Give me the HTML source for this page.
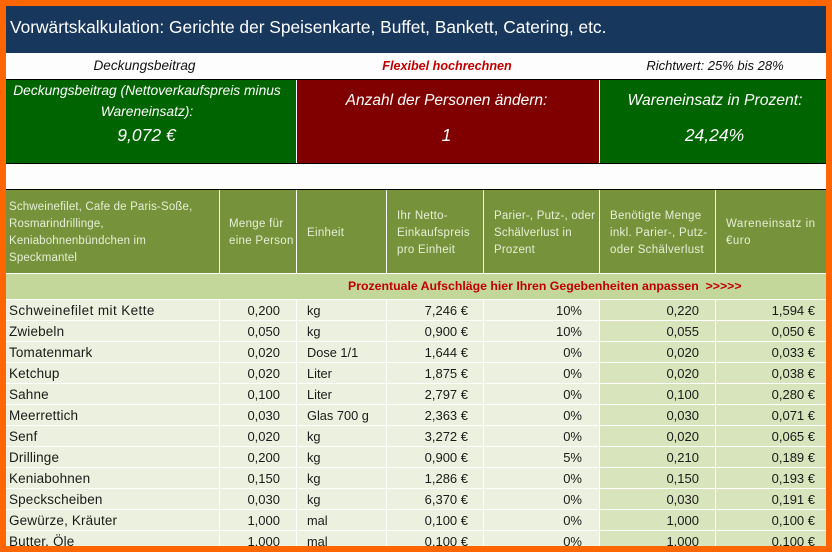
<!DOCTYPE html>
<html lang="de">
<head>
<meta charset="utf-8">
<title>Vorwärtskalkulation</title>
<style>
html,body{margin:0;padding:0;background:#ff6600}
body{width:832px;height:552px;overflow:hidden;position:relative;font-family:"Liberation Sans",sans-serif}
#sheet{position:absolute;left:6px;top:6px;width:820px;height:540px;background:#fdfdfd;overflow:hidden}
.abs{position:absolute;box-sizing:border-box;white-space:nowrap}
.title{left:0;top:0;width:820px;height:47px;background:#17375d;color:#fff;font-size:17.35px;line-height:43px;padding-left:4px}
.sub{top:47px;height:26px;line-height:26px;font-size:13px;font-style:italic;color:#111;text-align:center}
.hr{left:0;width:820px;height:1px;background:#000}
.box{top:74px;height:83px;color:#fff;font-style:italic;text-align:center}
.box div{position:absolute;text-align:center;white-space:nowrap}
table{position:absolute;left:0;top:184px;width:820px;border-collapse:separate;border-spacing:0;table-layout:fixed}
th{background:#76933c;color:#e6eed6;font-weight:normal;font-size:11.5px;letter-spacing:.3px;line-height:17px;height:83px;padding:2px 0 0 4px;text-align:left;vertical-align:middle;border-right:1px solid #fff;box-sizing:border-box;white-space:nowrap}
th.i{padding-left:10px}
th.o{padding-top:4px}
th:last-child,td:last-child{border-right:0}
td{height:21px;padding:1px 0 0;font-size:13px;line-height:19px;color:#1a1a1a;background:#ebf1de;border-right:1px solid #fff;border-bottom:1px solid #fff;box-sizing:border-box;white-space:nowrap;overflow:hidden;vertical-align:top}
td.n{padding-left:3px;font-size:13.5px;letter-spacing:.15px}
td.u{padding-left:10px;font-size:12.8px}
td.r{text-align:right;padding-right:16px}
td.p{text-align:right;padding-right:15px}
td.q{text-align:right;padding-right:17px}
td.d{background:#d8e4bc}
td.e{padding-right:11px}
td.banner{height:27px;background:#c4d79b;color:#c00000;font-weight:bold;font-size:12.3px;line-height:25px;text-align:left;border-top:1px solid #fff;padding:0 0 0 342px;border-right:0}
</style>
</head>
<body>
<div id="sheet">
  <div class="abs title">Vorwärtskalkulation: Gerichte der Speisenkarte, Buffet, Bankett, Catering, etc.</div>

  <div class="abs sub" style="left:0;width:277px;font-size:13.6px">Deckungsbeitrag</div>
  <div class="abs sub" style="left:291px;width:300px;color:#c00000;font-weight:bold;font-size:12.6px">Flexibel hochrechnen</div>
  <div class="abs sub" style="left:594px;width:230px">Richtwert: 25% bis 28%</div>

  <div class="abs hr" style="top:73px"></div>

  <div class="abs box" style="left:0;width:290px;background:#006400">
    <div style="left:0;width:282px;top:0;font-size:13.8px;line-height:21px">Deckungsbeitrag (Nettoverkaufspreis minus<br>Wareneinsatz):</div>
    <div style="left:0;width:281px;top:43px;font-size:17.5px;line-height:24px">9,072 €</div>
  </div>
  <div class="abs box" style="left:291px;width:302px;background:#800000">
    <div style="left:0;width:299px;top:9px;font-size:15.5px;line-height:24px">Anzahl der Personen ändern:</div>
    <div style="left:0;width:299px;top:43px;font-size:17.5px;line-height:24px">1</div>
  </div>
  <div class="abs box" style="left:594px;width:226px;background:#006400">
    <div style="left:0;width:230px;top:9px;font-size:15.7px;line-height:24px">Wareneinsatz in Prozent:</div>
    <div style="left:0;width:229px;top:43px;font-size:17.5px;line-height:24px">24,24%</div>
  </div>

  <div class="abs hr" style="top:157px"></div>
  <div class="abs hr" style="top:183px"></div>

  <table>
    <colgroup>
      <col style="width:214px"><col style="width:77px"><col style="width:90px"><col style="width:97px"><col style="width:116px"><col style="width:116px"><col style="width:110px">
    </colgroup>
    <thead>
      <tr>
        <th style="padding-left:3px;letter-spacing:.15px">Schweinefilet, Cafe de Paris-Soße,<br>Rosmarindrillinge,<br>Keniabohnenbündchen im<br>Speckmantel</th>
        <th style="padding-left:9px">Menge für<br>eine Person</th>
        <th class="i o">Einheit</th>
        <th class="i o">Ihr Netto-<br>Einkaufspreis<br>pro Einheit</th>
        <th class="i o" style="letter-spacing:.2px">Parier-, Putz-, oder<br>Schälverlust in<br>Prozent</th>
        <th class="i o">Benötigte Menge<br>inkl. Parier-, Putz-<br>oder Schälverlust</th>
        <th class="i" style="letter-spacing:.5px">Wareneinsatz in<br>€uro</th>
      </tr>
    </thead>
    <tbody>
      <tr><td colspan="7" class="banner">Prozentuale Aufschläge hier Ihren Gegebenheiten anpassen &nbsp;&gt;&gt;&gt;&gt;&gt;</td></tr>
      <tr><td class="n" style="letter-spacing:.4px">Schweinefilet mit Kette</td><td class="r">0,200</td><td class="u">kg</td><td class="p">7,246 €</td><td class="q">10%</td><td class="r d">0,220</td><td class="d e r">1,594 €</td></tr>
      <tr><td class="n">Zwiebeln</td><td class="r">0,050</td><td class="u">kg</td><td class="p">0,900 €</td><td class="q">10%</td><td class="r d">0,055</td><td class="d e r">0,050 €</td></tr>
      <tr><td class="n">Tomatenmark</td><td class="r">0,020</td><td class="u">Dose 1/1</td><td class="p">1,644 €</td><td class="q">0%</td><td class="r d">0,020</td><td class="d e r">0,033 €</td></tr>
      <tr><td class="n">Ketchup</td><td class="r">0,020</td><td class="u">Liter</td><td class="p">1,875 €</td><td class="q">0%</td><td class="r d">0,020</td><td class="d e r">0,038 €</td></tr>
      <tr><td class="n">Sahne</td><td class="r">0,100</td><td class="u">Liter</td><td class="p">2,797 €</td><td class="q">0%</td><td class="r d">0,100</td><td class="d e r">0,280 €</td></tr>
      <tr><td class="n">Meerrettich</td><td class="r">0,030</td><td class="u">Glas 700 g</td><td class="p">2,363 €</td><td class="q">0%</td><td class="r d">0,030</td><td class="d e r">0,071 €</td></tr>
      <tr><td class="n">Senf</td><td class="r">0,020</td><td class="u">kg</td><td class="p">3,272 €</td><td class="q">0%</td><td class="r d">0,020</td><td class="d e r">0,065 €</td></tr>
      <tr><td class="n">Drillinge</td><td class="r">0,200</td><td class="u">kg</td><td class="p">0,900 €</td><td class="q">5%</td><td class="r d">0,210</td><td class="d e r">0,189 €</td></tr>
      <tr><td class="n">Keniabohnen</td><td class="r">0,150</td><td class="u">kg</td><td class="p">1,286 €</td><td class="q">0%</td><td class="r d">0,150</td><td class="d e r">0,193 €</td></tr>
      <tr><td class="n">Speckscheiben</td><td class="r">0,030</td><td class="u">kg</td><td class="p">6,370 €</td><td class="q">0%</td><td class="r d">0,030</td><td class="d e r">0,191 €</td></tr>
      <tr><td class="n">Gewürze, Kräuter</td><td class="r">1,000</td><td class="u">mal</td><td class="p">0,100 €</td><td class="q">0%</td><td class="r d">1,000</td><td class="d e r">0,100 €</td></tr>
      <tr><td class="n">Butter, Öle</td><td class="r">1,000</td><td class="u">mal</td><td class="p">0,100 €</td><td class="q">0%</td><td class="r d">1,000</td><td class="d e r">0,100 €</td></tr>
    </tbody>
  </table>
</div>
</body>
</html>
